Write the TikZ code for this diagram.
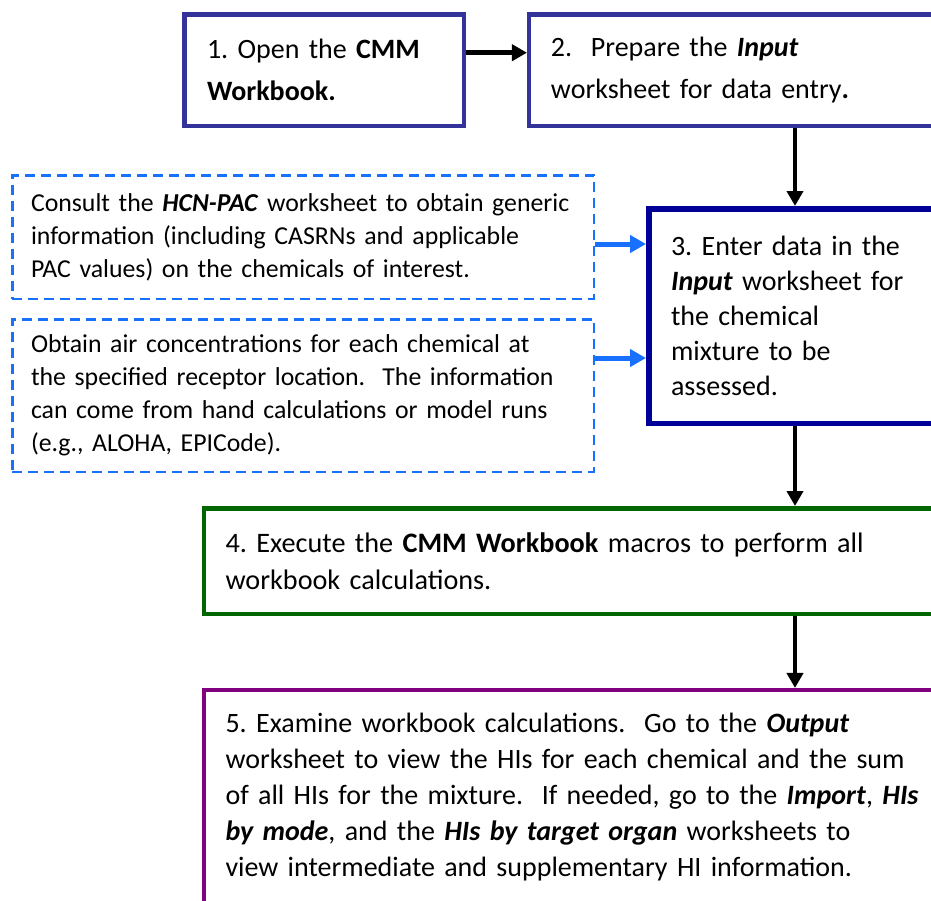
\documentclass[tikz,border=0pt]{standalone}
\usepackage{fontspec}
\setmainfont{Carlito}
\usetikzlibrary{arrows.meta}
\definecolor{cindigo}{RGB}{51,51,153}
\definecolor{cnavy}{RGB}{0,0,153}
\definecolor{cgreen}{RGB}{0,102,0}
\definecolor{cpurple}{RGB}{128,0,128}
\definecolor{cblue}{RGB}{24,112,255}
\newcommand{\bi}[1]{\textbf{\textit{#1}}}
\tikzset{
  stepbox/.style={draw, rectangle, align=left, inner ysep=0pt, line width=4.5pt,
    font=\fontsize{28}{35}\selectfont},
  notebox/.style={draw=cblue, rectangle, align=left, inner ysep=0pt, line width=2.5pt,
    dash pattern=on 10pt off 6pt, font=\fontsize{25.8}{33}\selectfont,
    minimum width=581.5pt, text width=544pt, inner xsep=18.75pt},
  blk/.style={draw=black, line width=4.5pt, -{Triangle[length=15pt,width=16pt]}},
  blu/.style={draw=cblue, line width=5pt, -{Triangle[length=16pt,width=17pt]}}
}
\begin{document}
\frenchspacing
\begin{tikzpicture}[x=1pt,y=-1pt]
\useasboundingbox (0,0) rectangle (931,900);
\clip (0,0) rectangle (931,900);
\fill[white] (0,0) rectangle (931,900);

\node[stepbox, draw=cindigo, minimum width=279.5pt, minimum height=111.5pt,
  text width=234pt, inner xsep=22.75pt, font=\fontsize{28}{42}\selectfont]
  (b1) at (324,70) {1. Open the \textbf{CMM}\\\textbf{Workbook.}};

\node[stepbox, draw=cindigo, minimum width=470.75pt, minimum height=111.5pt,
  text width=427.25pt, inner xsep=21.75pt, font=\fontsize{28}{42}\selectfont]
  (b2) at (764.6,70) {2.\ \ Prepare the \bi{Input}\\worksheet for data entry\textbf{.}};

\node[stepbox, draw=cnavy, line width=5.5pt, minimum width=351.25pt, minimum height=214.5pt,
  text width=306.75pt, inner xsep=22.25pt, font=\fontsize{28}{35}\selectfont]
  (b3) at (824.4,316) {3. Enter data in the\\\bi{Input} worksheet for\\the chemical\\mixture to be\\assessed.};

\node[notebox, minimum height=123.5pt] (nA) at (303,237)
  {Consult the \bi{HCN-PAC} worksheet to obtain generic\\information (including CASRNs and applicable\\PAC values) on the chemicals of interest.};

\node[notebox, minimum height=152.5pt] (nB) at (303,395.5)
  {Obtain air concentrations for each chemical at\\the specified receptor location.\ \ The information\\can come from hand calculations or model runs\\(e.g., ALOHA, EPICode).};

\node[stepbox, draw=cgreen, minimum width=796.25pt, minimum height=105.5pt,
  text width=752.75pt, inner xsep=21.75pt, font=\fontsize{28.2}{37}\selectfont]
  (b4) at (601.9,561) {4. Execute the \textbf{CMM Workbook} macros to perform all\\workbook calculations.};

\node[stepbox, draw=cpurple, minimum width=796.25pt, minimum height=213.75pt,
  text width=752.75pt, inner xsep=21.75pt, font=\fontsize{28}{36}\selectfont]
  (b5) at (601.9,797.1) {5. Examine workbook calculations.\ \ Go to the \bi{Output}\\worksheet to view the HIs for each chemical and the sum\\of all HIs for the mixture.\ \ If needed, go to the \bi{Import}, \bi{HIs}\\\bi{by mode}, and the \bi{HIs by target organ} worksheets to\\view intermediate and supplementary HI information.};

\draw[blk] (b1.east |- 0,52.7) -- (b2.west |- 0,52.7);
\draw[blk] (b2.south -| 795,0) -- (b3.north -| 795,0);
\draw[blk] (b3.south -| 795,0) -- (b4.north -| 795,0);
\draw[blk] (b4.south -| 795,0) -- (b5.north -| 795,0);
\draw[blu] (nA.east |- 0,244) -- (b3.west |- 0,244);
\draw[blu] (nB.east |- 0,358) -- (b3.west |- 0,358);
\end{tikzpicture}
\end{document}
